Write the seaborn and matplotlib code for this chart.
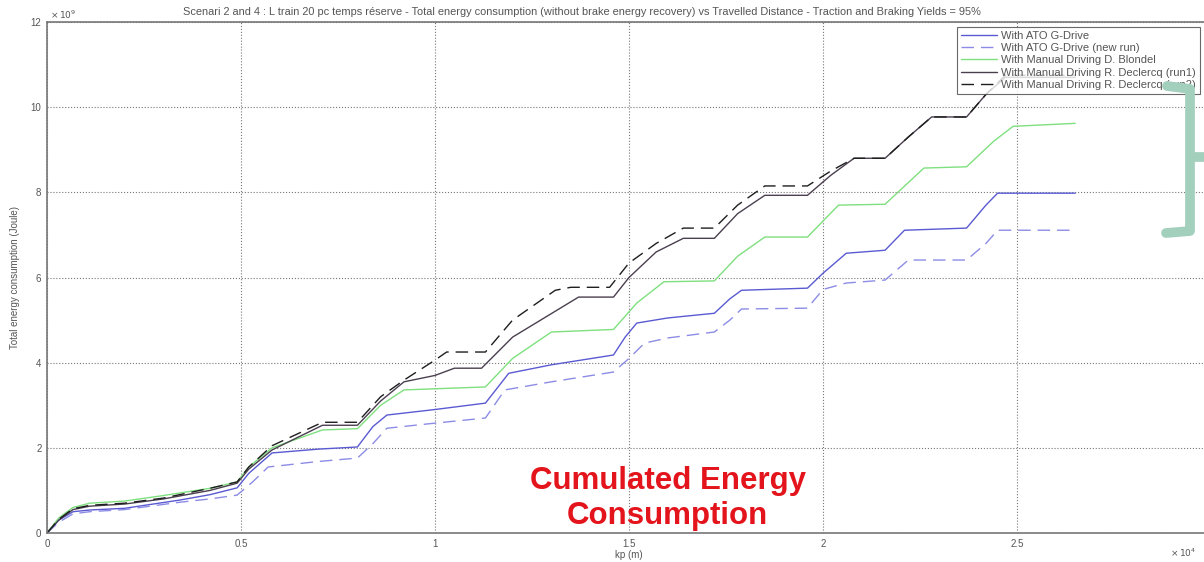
import numpy as np
import pandas as pd
import matplotlib
matplotlib.use("Agg")
import matplotlib.pyplot as plt
from matplotlib.lines import Line2D
import seaborn as sns

# kp in units of 1e4 m, energy in units of 1e9 J
ato_x = [0, 0.03, 0.067, 0.11, 0.2, 0.34, 0.42, 0.49, 0.52, 0.58, 0.70, 0.80, 0.84, 0.876, 1.0, 1.13,
         1.19, 1.30, 1.46, 1.49, 1.52, 1.60, 1.72, 1.76, 1.79, 1.96, 2.0, 2.06, 2.16, 2.21, 2.37, 2.42, 2.45, 2.65]
ato_y = [0, 0.3, 0.5, 0.54, 0.58, 0.77, 0.9, 1.06, 1.4, 1.88, 1.97, 2.02, 2.5, 2.77, 2.9, 3.05,
         3.75, 3.95, 4.18, 4.6, 4.93, 5.05, 5.16, 5.5, 5.7, 5.75, 6.1, 6.57, 6.64, 7.11, 7.16, 7.7, 7.98, 7.98]

ato2_x = [0, 0.03, 0.067, 0.11, 0.2, 0.34, 0.42, 0.49, 0.53, 0.57, 0.70, 0.80, 0.84, 0.876, 1.0, 1.13,
          1.18, 1.30, 1.46, 1.50, 1.54, 1.60, 1.72, 1.76, 1.79, 1.96, 2.0, 2.06, 2.16, 2.22, 2.37, 2.42, 2.45, 2.65]
ato2_y = [0, 0.25, 0.45, 0.5, 0.55, 0.72, 0.8, 0.89, 1.2, 1.55, 1.68, 1.76, 2.1, 2.46, 2.58, 2.7,
          3.36, 3.55, 3.78, 4.1, 4.46, 4.58, 4.72, 5.0, 5.26, 5.28, 5.72, 5.87, 5.94, 6.41, 6.41, 6.8, 7.11, 7.11]

blondel_x = [0, 0.03, 0.067, 0.11, 0.2, 0.3, 0.42, 0.49, 0.52, 0.58, 0.71, 0.80, 0.86, 0.92, 1.13, 1.20,
             1.30, 1.46, 1.52, 1.59, 1.72, 1.78, 1.85, 1.96, 2.04, 2.16, 2.26, 2.37, 2.44, 2.49, 2.65]
blondel_y = [0, 0.35, 0.6, 0.7, 0.75, 0.88, 1.05, 1.2, 1.55, 2.0, 2.42, 2.45, 3.0, 3.36, 3.43, 4.1,
             4.72, 4.78, 5.4, 5.9, 5.92, 6.5, 6.95, 6.95, 7.7, 7.72, 8.57, 8.6, 9.2, 9.55, 9.62]

run1_x = [0, 0.03, 0.067, 0.11, 0.2, 0.3, 0.42, 0.49, 0.52, 0.58, 0.71, 0.80, 0.86, 0.92, 1.0, 1.05, 1.12,
          1.20, 1.37, 1.46, 1.50, 1.57, 1.64, 1.72, 1.78, 1.85, 1.96, 2.02, 2.08, 2.16, 2.22, 2.28, 2.37,
          2.42, 2.47, 2.65]
run1_y = [0, 0.3, 0.55, 0.63, 0.68, 0.8, 1.0, 1.17, 1.5, 1.95, 2.53, 2.53, 3.1, 3.55, 3.7, 3.87, 3.87,
          4.6, 5.54, 5.54, 6.0, 6.6, 6.92, 6.92, 7.5, 7.93, 7.93, 8.4, 8.8, 8.8, 9.3, 9.77, 9.77,
          10.3, 10.7, 10.7]

run2_x = [0, 0.03, 0.067, 0.11, 0.2, 0.3, 0.42, 0.49, 0.52, 0.58, 0.71, 0.80, 0.86, 0.92, 1.0, 1.03, 1.13,
          1.20, 1.31, 1.35, 1.45, 1.50, 1.57, 1.64, 1.72, 1.78, 1.85, 1.96, 2.02, 2.08, 2.16, 2.22, 2.28,
          2.37, 2.42, 2.47, 2.65]
run2_y = [0, 0.32, 0.57, 0.65, 0.7, 0.82, 1.05, 1.2, 1.55, 2.05, 2.6, 2.6, 3.2, 3.59, 4.06, 4.25, 4.25,
          5.0, 5.7, 5.77, 5.77, 6.34, 6.8, 7.16, 7.16, 7.7, 8.15, 8.15, 8.5, 8.8, 8.8, 9.3, 9.77,
          9.77, 10.3, 10.75, 10.75]

labels = ["With ATO G-Drive", "With ATO G-Drive (new run)", "With Manual Driving D. Blondel",
          "With Manual Driving R. Declercq (run1)", "With Manual Driving R. Declercq (run2)"]
xticks = [0, 0.5, 1, 1.5, 2, 2.5, 3]
xticklabels = ["0", "0.5", "1", "1.5", "2", "2.5", ""]
yticks = [0, 2, 4, 6, 8, 10, 12]

series = [(ato_x, ato_y), (ato2_x, ato2_y), (blondel_x, blondel_y), (run1_x, run1_y), (run2_x, run2_y)]
colors = ["#5a5ad2", "#8c8ce6", "#7ee07e", "#4a3f4f", "#1e1e1e"]
styles = ["-", (0, (9, 5)), "-", "-", (0, (9, 5))]

sns.set_style("white")
plt.rcParams["font.family"] = ["Liberation Sans", "DejaVu Sans"]

W, H = 1204, 562
fig = plt.figure(figsize=(W / 100, H / 100), dpi=100)
ax = fig.add_axes([47 / W, 1 - 533 / H, (1211 - 47) / W, (533 - 22) / H])

for (xs, ys), lab, c, ls in zip(series, labels, colors, styles):
    df = pd.DataFrame({"kp": xs, "energy": ys})
    sns.lineplot(data=df, x="kp", y="energy", ax=ax, color=c, linewidth=1.0,
                 linestyle=ls, label=lab, sort=False, estimator=None)

ax.set_xlim(0, 3)
ax.set_ylim(0, 12)
ax.set_xticks(xticks)
ax.set_xticklabels(xticklabels)
ax.set_yticks(yticks)
ax.tick_params(direction="in", length=4, labelsize=7, colors="#555555", pad=4)
ax.grid(True, linestyle=":", color="#777777", linewidth=0.8)
for s in ax.spines.values():
    s.set_color("#777777")
    s.set_linewidth(1.2)

ax.set_xlabel("kp (m)", fontsize=7, color="#555555", labelpad=1)
ax.set_ylabel("Total energy consumption (Joule)", fontsize=7, color="#555555", labelpad=8)
fig.text(582 / W, 1 - 12 / H,
         "Scenari 2 and 4 : L train 20 pc temps réserve - Total energy consumption (without brake energy "
         "recovery) vs Travelled Distance - Traction and Braking Yields = 95%",
         fontsize=7.9, color="#555555", ha="center", va="center")

fig.text(50 / W, 1 - 15 / H, r"$\times\,10^{9}$", fontsize=6.5, color="#555555", va="center")
fig.text(1170 / W, 1 - 553 / H, r"$\times\,10^{4}$", fontsize=6.5, color="#555555", va="center")

leg = ax.legend(loc="upper right", bbox_to_anchor=(1200 / W, 1 - 27 / H),
                bbox_transform=fig.transFigure, fontsize=8, frameon=True, fancybox=False,
                handlelength=3.2, handletextpad=0.4, borderpad=0.35, labelspacing=0.2,
                borderaxespad=0)
leg.get_frame().set_edgecolor("#444444")
leg.get_frame().set_linewidth(0.8)
for t in leg.get_texts():
    t.set_color("#555555")

ax.text(1.6, 0.82, "Cumulated Energy\nConsumption", ha="center", va="center",
        fontsize=22.5, fontweight="bold", color="#e3141b", linespacing=1.22)

# green bracket drawn on top of the figure
bx = np.array([1167, 1190, 1190, 1166])
by = np.array([86, 89, 231, 233])
fig.add_artist(Line2D(bx / W, 1 - by / H, transform=fig.transFigure, color="#a3cfbd",
                      linewidth=7, solid_capstyle="round", solid_joinstyle="round"))
fig.add_artist(Line2D(np.array([1190, 1206]) / W, 1 - np.array([157, 157]) / H,
                      transform=fig.transFigure, color="#a3cfbd", linewidth=7,
                      solid_capstyle="butt"))

fig.savefig("out.png", dpi=100)
